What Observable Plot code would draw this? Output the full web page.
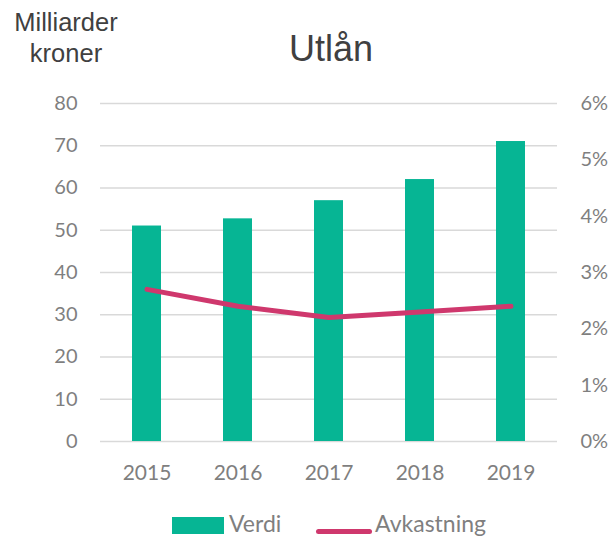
<!DOCTYPE html>
<html>
<head>
<meta charset="utf-8">
<script src="https://cdn.jsdelivr.net/npm/d3@7"></script>
<script src="https://cdn.jsdelivr.net/npm/@observablehq/plot@0.6"></script>
<style>
  html, body { margin: 0; padding: 0; background: #fff; }
  #wrap { position: relative; width: 613px; height: 539px; overflow: hidden; }
  #wrap svg { position: absolute; left: 0; top: 0; }
  .abs { position: absolute; white-space: nowrap; }
  #title { left: 231px; width: 200px; top: 31px; text-align: center; font: 36px/36px "Liberation Sans", Arial, sans-serif; color: #404040; }
  #ylab { left: 5px; width: 122px; top: 7px; text-align: center; font: 25.5px/31px "Liberation Sans", Arial, sans-serif; color: #404040; }
  .leg { font: 23px/23px Lato, sans-serif; color: #7f7f7f; top: 512px; }
  .sw { position: absolute; }
</style>
</head>
<body>
<div id="wrap">
  <div id="title" class="abs">Utlån</div>
  <div id="ylab" class="abs">Milliarder<br>kroner</div>
  <div class="sw" style="left:172px;top:517px;width:52px;height:17px;background:#06b594"></div>
  <div class="abs leg" style="left:229px">Verdi</div>
  <div class="sw" style="left:316px;top:529px;width:56px;height:5px;border-radius:3px;background:#cf386d"></div>
  <div class="abs leg" style="left:375px">Avkastning</div>
</div>
<script>
const years = ["2015", "2016", "2017", "2018", "2019"];
const verdi = [51, 52.7, 57, 62, 71];            // milliarder kroner
const avkastning = [2.7, 2.4, 2.2, 2.3, 2.4];    // prosent
const leftTicks = [0, 10, 20, 30, 40, 50, 60, 70, 80];
const rightTicks = [0, 1, 2, 3, 4, 5, 6];        // prosent

const yMax = 80, pMax = 6, k = yMax / pMax;
const data = years.map((y, i) => ({year: y, verdi: verdi[i], avk: avkastning[i]}));

const chart = Plot.plot({
  width: 613,
  height: 539,
  marginLeft: 100,
  marginRight: 56,
  marginTop: 103,
  marginBottom: 98,
  style: {fontFamily: "Lato, sans-serif", color: "#7f7f7f", background: "transparent"},
  x: {domain: years, paddingInner: 0.68, paddingOuter: 0.3375, label: null},
  y: {domain: [0, yMax], label: null},
  marks: [
    Plot.ruleY(leftTicks, {stroke: "#d9d9d9", strokeWidth: 1.3}),
    Plot.axisY(leftTicks, {anchor: "left", tickSize: 0, tickPadding: 23, fontSize: 20, label: null}),
    Plot.axisY(rightTicks.map(p => p * k), {anchor: "right", tickSize: 0, tickPadding: 23, fontSize: 20, label: null,
      tickFormat: d => Math.round(d / k) + "%"}),
    Plot.axisX({tickSize: 0, tickPadding: 24, fontSize: 21, label: null}),
    Plot.barY(data, {x: "year", y: "verdi", fill: "#06b594"}),
    Plot.lineY(data, {x: "year", y: d => d.avk * k, stroke: "#cf386d", strokeWidth: 5, strokeLinecap: "round", strokeLinejoin: "round"})
  ]
});
document.getElementById("wrap").prepend(chart);
</script>
</body>
</html>
